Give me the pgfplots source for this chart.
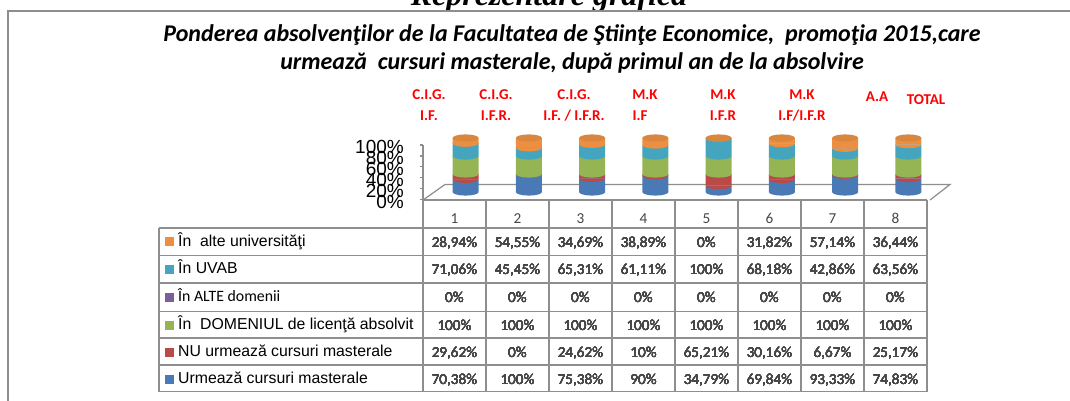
\documentclass[border=0pt]{standalone}
\usepackage{pgfplots}
\usepackage{pgfplotstable}
\usepackage{fontspec}
\pgfplotsset{compat=1.18}
\setmainfont{Liberation Sans}
\newfontfamily\calb{Carlito}
\newfontfamily\tnr{Liberation Serif}
\definecolor{gridg}{HTML}{8E8E8E}
\definecolor{cblue}{HTML}{4A7AB5}
\definecolor{cred}{HTML}{B84B48}
\definecolor{cgreen}{HTML}{95B454}
\definecolor{cpurple}{HTML}{7A5F9C}
\definecolor{cteal}{HTML}{46A5BE}
\definecolor{corange}{HTML}{EE8E40}
\definecolor{ctop}{HTML}{D9863F}
\pgfplotstableread{
x blue  red   green purple teal  orange
1 70.38 29.62 100   0      71.06 28.94
2 100   0     100   0      45.45 54.55
3 75.38 24.62 100   0      65.31 34.69
4 90    10    100   0      61.11 38.89
5 34.79 65.21 100   0      100   0
6 69.84 30.16 100   0      68.18 31.82
7 93.33 6.67  100   0      42.86 57.14
8 74.83 25.17 100   0      63.56 36.44
}\chartdata
\newcommand\mkshade[2]{%
  \pgfdeclareplotmark{el#1}{\pgfpathmoveto{\pgfqpoint{-13pt}{0pt}}\pgfpatharc{180}{360}{13pt and 3.6pt}\pgfpathclose\pgfsetfillcolor{#2}\pgfusepathqfill}%
}
\mkshade{blue}{cblue}
\mkshade{red}{cred}
\mkshade{green}{cgreen}
\mkshade{purple}{cpurple}
\mkshade{teal}{cteal}
\mkshade{orange}{corange}
\pgfdeclareplotmark{eltop}{\pgfpathellipse{\pgfpointorigin}{\pgfqpoint{13pt}{0pt}}{\pgfqpoint{0pt}{3.6pt}}\pgfsetfillcolor{ctop}\pgfusepathqfill}
% table rows
\newcommand\valnode[2]{\node[anchor=base,inner sep=0pt,text=black!72,font=\calb\fontsize{15.2}{17}\selectfont] at #1 {#2};}
\newcommand\rowvals[9]{%
  \valnode{(454.5,#1)}{#2}\valnode{(517.5,#1)}{#3}\valnode{(580.5,#1)}{#4}\valnode{(643.5,#1)}{#5}%
  \valnode{(706.5,#1)}{#6}\valnode{(769.5,#1)}{#7}\valnode{(832.5,#1)}{#8}\valnode{(895.5,#1)}{#9}%
}
\newcommand\redlab[3]{\node[text=red,font=\calb\bfseries\fontsize{15}{17}\selectfont] at (#1,#2+1.5) {#3};}
\begin{document}
\begin{tikzpicture}
\path[use as bounding box,clip] (0,0) rectangle (1070pt,400pt);
\fill[white] (0,0) rectangle (1070pt,400pt);
\begin{scope}[x=1pt,y=-1pt,shift={(0pt,400pt)}]
  % heading clipped by the top edge
  \node[anchor=base,inner sep=0pt,font=\tnr\bfseries\itshape\fontsize{32}{34}\selectfont] at (549,6) {Reprezentare grafică};
  % frame
  \fill[white] (8,11) rectangle (1072,402);
  \draw[gridg,line width=1.6pt] (8,402) -- (8,11) -- (1072,11);
  % title
  \node[font=\calb\bfseries\itshape\fontsize{24}{26}\selectfont] at (572,35) {Ponderea absolvenţilor de la Facultatea de Ştiinţe Economice,\ \ promoţia 2015,care};
  \node[font=\calb\bfseries\itshape\fontsize{24}{26}\selectfont] at (572,63) {urmează\ \ cursuri masterale, după primul an de la absolvire};
  % red labels
  \redlab{429}{93}{C.I.G.}\redlab{429}{114}{I.F.}
  \redlab{496}{93}{C.I.G.}\redlab{496}{114}{I.F.R.}
  \redlab{574}{93}{C.I.G.}\redlab{574}{114}{I.F. / I.F.R.}
  \redlab{645}{93}{M.K}\redlab{640}{114}{I.F}
  \redlab{723}{93}{M.K}\redlab{723}{114}{I.F.R}
  \redlab{802}{93}{M.K}\redlab{802}{114}{I.F/I.F.R}
  \redlab{877}{95}{A.A}\redlab{926}{98}{TOTAL}
  % floor
  \draw[gridg,line width=1.2pt,fill=white] (423,200) -- (445,184.5) -- (950,184.5) -- (930,200);
  % table lines
  \draw[gridg,line width=1.5pt] (423,200) -- (927,200);
  \foreach \yy in {228,255.5,283,311.5,338,365,391.7} \draw[gridg,line width=1.5pt] (159,\yy) -- (927,\yy);
  \foreach \xx in {423,486,549,612,675,738,801,864,927} \draw[gridg,line width=1.5pt] (\xx,200) -- (\xx,391.7);
  \draw[gridg,line width=1.5pt] (159,228) -- (159,391.7);
  % category numbers
  \foreach \n [count=\i] in {1,...,8} \valnode{(391.5+63*\i,223)}{\n}
  % rows
  \rowvals{247}{28,94\%}{54,55\%}{34,69\%}{38,89\%}{0\%}{31,82\%}{57,14\%}{36,44\%}
  \rowvals{274}{71,06\%}{45,45\%}{65,31\%}{61,11\%}{100\%}{68,18\%}{42,86\%}{63,56\%}
  \rowvals{302}{0\%}{0\%}{0\%}{0\%}{0\%}{0\%}{0\%}{0\%}
  \rowvals{330}{100\%}{100\%}{100\%}{100\%}{100\%}{100\%}{100\%}{100\%}
  \rowvals{357}{29,62\%}{0\%}{24,62\%}{10\%}{65,21\%}{30,16\%}{6,67\%}{25,17\%}
  \rowvals{384}{70,38\%}{100\%}{75,38\%}{90\%}{34,79\%}{69,84\%}{93,33\%}{74,83\%}
  % legend keys
  \fill[corange] (165,237) rectangle (174,246);
  \fill[cteal] (165,265) rectangle (174,274);
  \fill[cpurple] (165,293) rectangle (174,302);
  \fill[cgreen] (165,321) rectangle (174,330);
  \fill[cred] (165,348) rectangle (174,357);
  \fill[cblue] (165,375) rectangle (174,384);
  \node[anchor=base west,inner sep=0pt,font=\fontsize{15.8}{17}\selectfont] at (178,246) {În\ \ alte universităţi};
  \node[anchor=base west,inner sep=0pt,font=\fontsize{15.8}{17}\selectfont] at (178,273.5) {În UVAB};
  \node[anchor=base west,inner sep=0pt,font=\calb\fontsize{15.8}{17}\selectfont] at (178,301) {În ALTE domenii};
  \node[anchor=base west,inner sep=0pt,font=\fontsize{15.8}{17}\selectfont] at (178,329) {În\ \ DOMENIUL de licenţă absolvit};
  \node[anchor=base west,inner sep=0pt,font=\fontsize{15.8}{17}\selectfont] at (178,356) {NU urmează cursuri masterale};
  \node[anchor=base west,inner sep=0pt,font=\fontsize{15.8}{17}\selectfont] at (178,383) {Urmează cursuri masterale};
\end{scope}
% value axis
\begin{axis}[at={(423pt,200.5pt)},anchor=origin,scale only axis,width=2pt,height=54.5pt,
  xmin=0,xmax=1,ymin=0,ymax=100,axis x line=none,axis y line*=left,
  y axis line style={gridg,line width=1.2pt},ytick={0,20,40,60,80,100},
  ytick style={gridg,line width=1.2pt},tick align=outside,major tick length=3pt,
  yticklabel={\pgfmathprintnumber{\tick}\%},
  /pgf/number format/assume math mode=true,
  yticklabel style={font=\fontsize{19}{19}\selectfont,inner sep=0pt,xshift=-16pt,yshift=-2pt}]
\end{axis}
% stacked cylinders
\begin{axis}[at={(434pt,208pt)},anchor=south west,scale only axis,width=506pt,height=54pt,
  xmin=0.5,xmax=8.5,ymin=0,ymax=300,hide axis,clip=false,
  ybar stacked,bar width=26pt]
  \addplot[draw=none,fill=cblue] table[x=x,y=blue]{\chartdata};
  \addplot[draw=none,fill=cred] table[x=x,y=red]{\chartdata};
  \addplot[draw=none,fill=cgreen] table[x=x,y=green]{\chartdata};
  \addplot[draw=none,fill=cpurple] table[x=x,y=purple]{\chartdata};
  \addplot[draw=none,fill=cteal] table[x=x,y=teal]{\chartdata};
  \addplot[draw=none,fill=corange] table[x=x,y=orange]{\chartdata};
\end{axis}
% rounded cylinder boundaries
\begin{axis}[at={(434pt,208pt)},anchor=south west,scale only axis,width=506pt,height=54pt,
  xmin=0.5,xmax=8.5,ymin=0,ymax=300,hide axis,clip=false]
  \addplot[only marks,mark=elblue] table[x=x,y expr=0*\thisrow{blue}]{\chartdata};
  \addplot[only marks,mark=elred] table[x=x,y=blue]{\chartdata};
  \addplot[only marks,mark=elgreen] table[x=x,y expr=\thisrow{blue}+\thisrow{red}]{\chartdata};
  \addplot[only marks,mark=elteal] table[x=x,y expr=\thisrow{blue}+\thisrow{red}+\thisrow{green}]{\chartdata};
  \addplot[only marks,mark=elorange] table[x=x,y expr=\thisrow{blue}+\thisrow{red}+\thisrow{green}+\thisrow{teal}]{\chartdata};
  \addplot[only marks,mark=eltop] table[x=x,y expr=\thisrow{blue}+\thisrow{red}+\thisrow{green}+\thisrow{teal}+\thisrow{orange}]{\chartdata};
\end{axis}
\end{tikzpicture}
\end{document}
